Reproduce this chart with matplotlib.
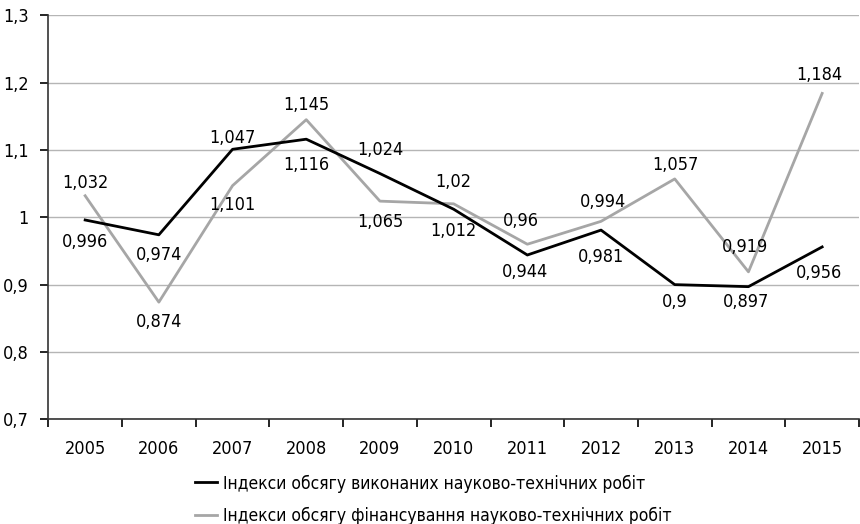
import matplotlib
matplotlib.use('Agg')
import matplotlib.pyplot as plt

# Data
years = ['2005', '2006', '2007', '2008', '2009', '2010',
         '2011', '2012', '2013', '2014', '2015']
performed = [0.996, 0.974, 1.101, 1.116, 1.065, 1.012, 0.944, 0.981, 0.9, 0.897, 0.956]
financing = [1.032, 0.874, 1.047, 1.145, 1.024, 1.02, 0.96, 0.994, 1.057, 0.919, 1.184]
performed_name = 'Індекси обсягу виконаних науково-технічних робіт'
financing_name = 'Індекси обсягу фінансування науково-технічних робіт'

# label offsets in pixels (x, y up) relative to each point
performed_offsets = [(0, -22), (0, -20), (0, -56), (0, -26), (0, -48), (0, -22),
                     (-2, -17), (0, -27), (0, -17), (-2, -15), (-3, -26)]
financing_offsets = [(0, 13), (0, -20), (0, 48), (0, 15), (0, 51), (0, 22),
                     (-6, 23), (2, 19), (1, 14), (-3, 25), (-3, 18)]

plt.rcParams['font.family'] = ['DejaVu Sans']
plt.rcParams['font.stretch'] = 'condensed'
FS = 13

fig = plt.figure(figsize=(8.6, 5.24), dpi=100)
ax = fig.add_axes([48.3 / 860, 1 - 419.3 / 524, (859 - 48.3) / 860, 404 / 524])

x = list(range(len(years)))
ax.plot(x, performed, color='black', lw=2.0, label=performed_name, zorder=3)
ax.plot(x, financing, color='#a6a6a6', lw=2.0, label=financing_name, zorder=2)


def fmt(v):
    return f'{v:g}'.replace('.', ',')


for i in x:
    ax.annotate(fmt(performed[i]), (i, performed[i]), xytext=performed_offsets[i],
                textcoords='offset pixels', ha='center', va='center', fontsize=FS)
    ax.annotate(fmt(financing[i]), (i, financing[i]), xytext=financing_offsets[i],
                textcoords='offset pixels', ha='center', va='center', fontsize=FS)

ax.set_xlim(-0.5, len(years) - 0.5)
ax.set_ylim(0.7, 1.3)
yt = [0.7, 0.8, 0.9, 1.0, 1.1, 1.2, 1.3]
ax.set_yticks(yt, [fmt(v) for v in yt])
ax.set_xticks(x, years)
ax.set_xticks([i - 0.5 for i in range(len(years) + 1)], minor=True)
ax.tick_params(axis='x', which='major', length=0, pad=15, labelsize=FS)
ax.tick_params(axis='x', which='minor', length=6, width=1.2, direction='out')
ax.tick_params(axis='y', length=6, width=1.2, pad=8, labelsize=FS)

ax.grid(axis='y', color='#b5b5b5', lw=1.0)
ax.set_axisbelow(True)
for s in ['top', 'right']:
    ax.spines[s].set_visible(False)
ax.spines['left'].set_color('#333333')
ax.spines['bottom'].set_color('#333333')
ax.spines['left'].set_linewidth(1.2)
ax.spines['bottom'].set_linewidth(1.2)

fig.legend(loc='center left', bbox_to_anchor=(195 / 860, 1 - 499.5 / 524),
           frameon=False, fontsize=12.5, borderpad=0, borderaxespad=0,
           handlelength=1.25, handletextpad=0.35, labelspacing=0.8)

fig.savefig('out.png', dpi=100)
